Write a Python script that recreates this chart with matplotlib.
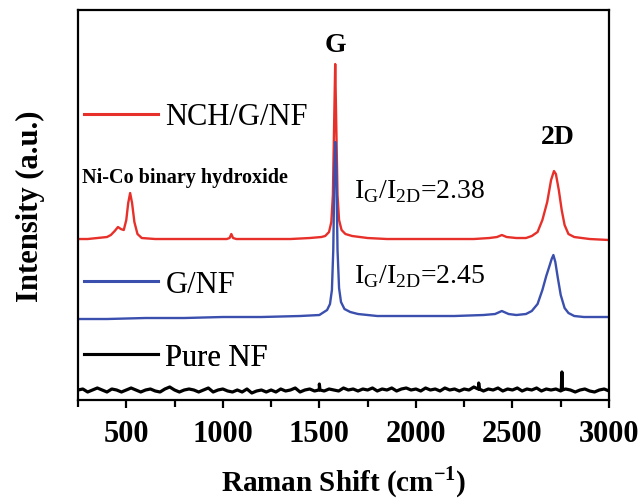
import numpy as np
import matplotlib
matplotlib.use('Agg')
import matplotlib.pyplot as plt
from matplotlib.lines import Line2D

plt.rcParams['font.family'] = 'Liberation Serif'
plt.rcParams['mathtext.fontset'] = 'custom'
plt.rcParams['mathtext.rm'] = 'Liberation Serif'
plt.rcParams['mathtext.bf'] = 'Liberation Serif:bold'

# Raman spectra (offset, arbitrary units)
red_x = [250, 300, 350, 400, 420, 440, 457, 472, 487, 500, 510, 520, 530, 542, 558, 580,
         650, 750, 850, 950, 1020, 1035, 1044, 1053, 1070, 1150, 1250, 1350, 1450, 1510,
         1530, 1550, 1562, 1570, 1576, 1582, 1588, 1594, 1602, 1615, 1635, 1670, 1750,
         1850, 2000, 2100, 2200, 2300, 2380, 2420, 2445, 2470, 2520, 2570, 2600, 2630,
         2655, 2680, 2700, 2715, 2725, 2740, 2755, 2770, 2790, 2820, 2900, 3000]
red_y = [161, 161, 162, 163, 165, 169, 173, 171, 170, 180, 197, 207, 197, 178, 166, 162,
         161, 161, 161, 161, 161, 162, 166, 162, 161, 161, 161, 161, 162, 163,
         164, 168, 178, 205, 270, 336, 270, 205, 180, 170, 166, 164, 162,
         161, 161, 161, 161, 161, 162, 163, 165, 163, 162, 162, 164, 168,
         180, 198, 220, 229, 226, 210, 190, 175, 166, 163, 161, 160]

blue_x = [250, 400, 600, 800, 1000, 1200, 1400, 1500, 1540, 1555, 1565, 1572, 1578, 1583,
          1588, 1594, 1602, 1612, 1630, 1660, 1700, 1800, 1900, 2000, 2200, 2350, 2410,
          2445, 2480, 2520, 2570, 2600, 2630, 2655, 2675, 2690, 2703, 2712, 2722, 2735,
          2750, 2770, 2790, 2820, 2870, 2950, 3000]
blue_y = [81, 81, 82, 82, 83, 83, 84, 85, 90, 96, 110, 150, 230, 258,
          230, 150, 112, 98, 91, 88, 86, 84, 84, 84, 84, 85, 86,
          89, 86, 85, 86, 89, 96, 110, 124, 133, 141, 145, 138, 122,
          105, 92, 87, 84, 83, 83, 83]

black_x = list(range(250, 3001, 25))
black_y = [10, 11, 8, 10, 12, 10, 8, 11, 10, 8,
           10, 12, 10, 8, 10, 11, 9, 8, 11, 13,
           10, 8, 10, 11, 10, 8, 10, 12, 8, 10,
           11, 9, 8, 10, 8, 11, 7, 9, 10, 8,
           10, 8, 11, 9, 10, 12, 8, 10, 11, 9,
           12, 9, 11, 10, 9, 12, 10, 11, 9, 11,
           10, 12, 9, 11, 10, 12, 9, 11, 12, 10,
           11, 9, 12, 10, 11, 9, 12, 10, 11, 9,
           11, 10, 13, 11, 9, 11, 10, 12, 9, 11,
           10, 12, 9, 11, 10, 12, 9, 11, 10, 11,
           9, 11, 10, 8, 10, 11, 9, 8, 10, 11, 9]
spike_x = [1497, 1500, 1503, 2322, 2325, 2328, 2753, 2756, 2759]
spike_y = [10, 16, 10, 11, 17, 11, 10, 28, 10]

labels = ['NCH/G/NF', 'G/NF', 'Pure NF']
colors = ['#E8302A', '#3A4FAE', 'black']

fig = plt.figure(figsize=(6.42, 5.02), dpi=100)
ax = fig.add_axes([0.1215, 0.2012, 0.8271, 0.7768])

bx = np.array(black_x + spike_x)
by = np.array(black_y + spike_y)
order = np.argsort(bx)

l_red, = ax.plot(red_x, red_y, color=colors[0], lw=1.7)
l_blue, = ax.plot(blue_x, blue_y, color=colors[1], lw=1.7)
l_black, = ax.plot(bx[order], by[order], color=colors[2], lw=2.3)

ax.set_xlim(250, 3000)
ax.set_ylim(0, 390)
ax.set_yticks([])
ax.set_xticks([500, 1000, 1500, 2000, 2500, 3000])
ax.set_xticks([250, 750, 1250, 1750, 2250, 2750], minor=True)
ax.tick_params(axis='x', which='major', direction='out', length=6, width=1.6,
               labelsize=22, pad=8)
ax.tick_params(axis='x', which='minor', direction='out', length=5, width=1.6)
for lbl in ax.get_xticklabels():
    lbl.set_fontweight('bold')
for sp in ax.spines.values():
    sp.set_linewidth(1.6)

ax.set_xlabel(r'Raman Shift (cm$^{\mathbf{-1}}$)', fontsize=21, fontweight='bold',
              labelpad=11)
ax.set_ylabel('Intensity (a.u.)', fontsize=22, fontweight='bold', labelpad=24)

# one legend per trace, each next to its curve
legend_y = [0.726, 0.297, 0.110]
for line, lab, yy in zip([l_red, l_blue, l_black], labels, legend_y):
    leg = ax.legend([Line2D([], [], color=line.get_color(), lw=2.2)], [lab],
                    loc='center left', bbox_to_anchor=(0.012, yy), frameon=False,
                    fontsize=22, handlelength=2.4, handletextpad=0.25,
                    borderpad=0, borderaxespad=0)
    ax.add_artist(leg)

ax.text(1585, 356, 'G', fontsize=20, fontweight='bold', ha='center', va='center')
ax.text(2735, 264, '2D', fontsize=20, fontweight='bold', ha='center', va='center')
ax.text(272, 223, 'Ni-Co binary hydroxide', fontsize=14.5, fontweight='bold',
        ha='left', va='center')
ax.text(1680, 209, r'I$_{\rm G}$/I$_{\rm 2D}$=2.38', fontsize=20, ha='left', va='center')
ax.text(1680, 124, r'I$_{\rm G}$/I$_{\rm 2D}$=2.45', fontsize=20, ha='left', va='center')

fig.savefig('out.png', dpi=100)
